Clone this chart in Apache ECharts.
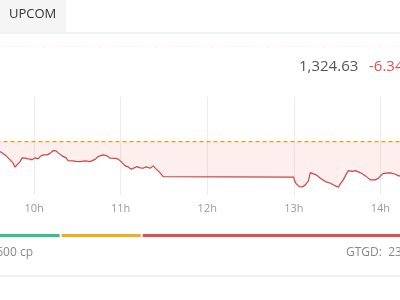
<!DOCTYPE html>
<html>
<head>
<meta charset="utf-8">
<script src="https://cdn.jsdelivr.net/npm/echarts@6/dist/echarts.min.js"></script>
<style>
html,body{margin:0;padding:0;background:#fff;}
#c{width:400px;height:300px;}
</style>
</head>
<body>
<div id="c"></div>
<script>
// ---- data ----
var exchangeName = "UPCOM";
var lastPrice = "1,324.63";
var lastChange = "-6.34";
var refPrice = 1330.97;
var sessionRange = [540, 900]; // 9h .. 15h, minutes since midnight
// time in minutes since midnight
var timeMin = [576.4,579.9,583.4,585.4,586.8,588.2,590.3,591.7,593.8,595.8,597.2,598.6,600.7,602.8,604.2,606.2,609.0,611.1,613.2,615.3,616.6,619.4,622.2,623.6,626.4,629.1,631.9,635.4,638.8,642.3,644.4,645.8,647.9,650.6,652.7,656.2,658.3,660.3,663.1,665.2,667.3,669.4,671.4,673.5,675.6,677.7,680.5,682.5,684.6,686.7,689.5,690.0,780.0,780.3,781.7,783.8,785.9,788.0,790.1,791.4,793.5,795.6,798.4,801.8,805.3,808.8,810.9,812.2,814.3,816.4,817.8,820.6,822.7,824.7,826.8,829.6,833.1,836.5,838.6,841.4,843.5,847.0,850.4,852.5,853.9];
var price = [1329.12,1328.51,1327.59,1327.03,1326.24,1326.66,1327.27,1327.96,1327.90,1327.77,1327.72,1327.59,1327.96,1327.77,1328.20,1328.51,1328.51,1328.79,1329.31,1329.25,1328.88,1328.33,1327.96,1327.46,1327.40,1327.31,1327.27,1327.40,1327.27,1327.68,1328.20,1328.33,1328.51,1328.33,1327.90,1327.87,1327.72,1327.27,1326.48,1326.29,1325.87,1326.11,1326.35,1326.11,1326.05,1326.29,1326.05,1326.48,1325.87,1325.37,1324.50,1324.39,1324.39,1323.89,1323.15,1322.65,1322.60,1322.97,1323.71,1325.24,1325.00,1324.81,1324.20,1323.58,1323.28,1322.78,1322.54,1323.15,1323.89,1325.00,1325.61,1325.46,1325.61,1325.37,1325.13,1324.63,1323.89,1323.89,1324.20,1325.00,1325.13,1325.18,1324.94,1324.63,1324.63];
// market breadth: advancing, unchanged, declining
var breadthLabels = ["Tăng", "Đứng giá", "Giảm"];
var breadthValues = [113, 81, 325];
var volumeText = "600 cp";
var valueText = "GTGD:  23,";

var chart = echarts.init(document.getElementById('c'), null, {renderer: 'canvas'});
var lineData = timeMin.map(function (t, i) { return [t, price[i]]; });
var refData = sessionRange.map(function (t) { return [t, refPrice]; });
var breadthColors = ['#35c287', '#f2ab1e', '#e04f4f'];
var fontFam = '"Open Sans", "Noto Sans", sans-serif';

var option = {
  animation: false,
  grid: [
    {left: -52.5, right: -67, top: 97, bottom: 105, outerBoundsMode: 'none', containLabel: false},
    {left: -52.5, right: -67, top: 233, height: 5, outerBoundsMode: 'none', containLabel: false}
  ],
  xAxis: [
    {
      type: 'value', gridIndex: 0, min: sessionRange[0], max: sessionRange[1], interval: 60,
      axisLine: {show: false}, axisTick: {show: false},
      splitLine: {show: true, lineStyle: {color: '#ececec', width: 1}},
      axisLabel: {
        color: '#999', fontSize: 11, margin: 8, fontFamily: fontFam,
        formatter: function (v) { return (v / 60) + 'h'; }
      }
    },
    {
      type: 'value', gridIndex: 1, min: 0,
      max: breadthValues.reduce(function (a, b) { return a + b; }, 0),
      show: false
    }
  ],
  yAxis: [
    {type: 'value', gridIndex: 0, min: 1321.1, max: 1339.2, show: false, splitLine: {show: false}},
    {type: 'category', gridIndex: 1, data: ['b'], show: false}
  ],
  series: [
    {
      type: 'line', xAxisIndex: 0, yAxisIndex: 0, data: lineData,
      symbol: 'none', smooth: false, z: 3,
      lineStyle: {color: '#cf4545', width: 1.2},
      areaStyle: {color: 'rgba(240,90,90,0.14)', origin: refPrice}
    },
    {
      type: 'line', xAxisIndex: 0, yAxisIndex: 0, data: refData,
      symbol: 'none', silent: true, z: 4,
      lineStyle: {color: '#f09a0c', width: 1.2, type: [4, 3]}
    }
  ].concat(breadthValues.map(function (v, i) {
    return {
      type: 'bar', name: breadthLabels[i], xAxisIndex: 1, yAxisIndex: 1, stack: 'b',
      data: [v], barWidth: 5,
      itemStyle: {color: breadthColors[i], borderColor: '#fff', borderWidth: 1}
    };
  })),
  graphic: [
    {type: 'rect', left: 0, top: 0, shape: {width: 66, height: 32}, style: {fill: '#f5f5f5'}, z: 0},
    {type: 'text', left: 9, top: 8, style: {text: exchangeName, fontSize: 13, fill: '#333', fontFamily: fontFam}},
    {type: 'rect', left: 0, top: 32.5, shape: {width: 400, height: 1}, style: {fill: '#dfe5ec'}},
    {type: 'line', shape: {x1: 0, y1: 46.5, x2: 400, y2: 46.5}, style: {stroke: '#fcf4dc', lineDash: [4, 3], lineWidth: 1}},
    {type: 'text', left: 299, top: 59, style: {text: lastPrice, fontSize: 15, fill: '#555', fontFamily: fontFam}},
    {type: 'text', left: 369, top: 59, style: {text: lastChange, fontSize: 15, fill: '#e05050', fontFamily: fontFam}},
    {type: 'text', right: 367, top: 247, style: {text: volumeText, fontSize: 12, fill: '#888', fontFamily: fontFam}},
    {type: 'text', left: 346, top: 247, style: {text: valueText, fontSize: 12, fill: '#888', fontFamily: fontFam}},
    {type: 'rect', left: 0, top: 275.5, shape: {width: 400, height: 1}, style: {fill: '#e0e4ea'}}
  ]
};
chart.setOption(option);
</script>
</body>
</html>
